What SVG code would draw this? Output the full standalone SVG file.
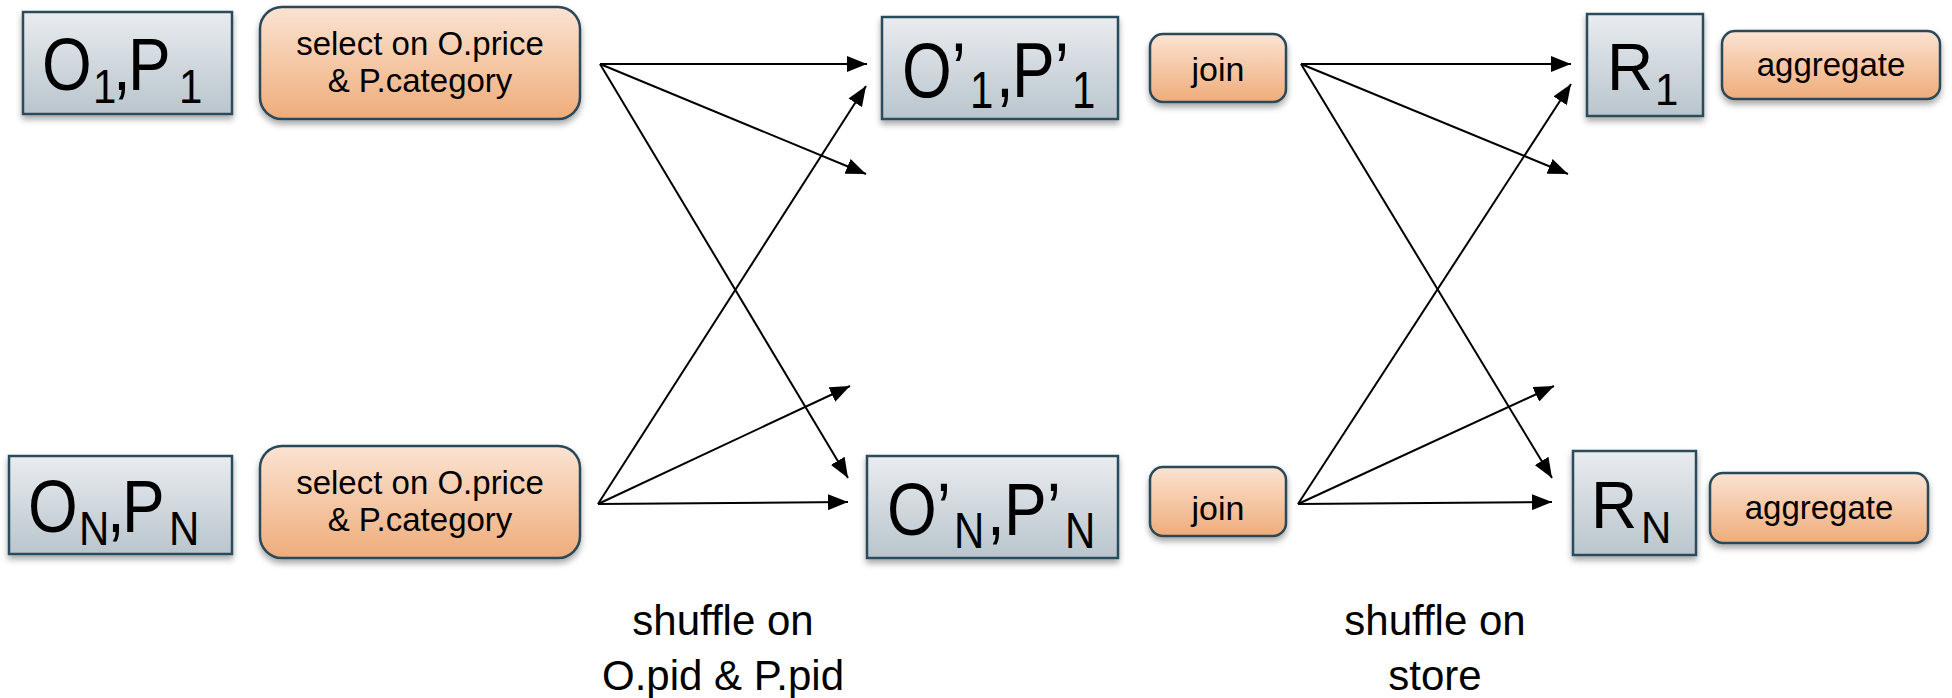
<svg xmlns="http://www.w3.org/2000/svg" width="1952" height="698" viewBox="0 0 1952 698">
  <defs>
    <linearGradient id="gradData" x1="0" y1="0" x2="0" y2="1">
      <stop offset="0" stop-color="#e9ecef"/>
      <stop offset="1" stop-color="#b9c5cd"/>
    </linearGradient>
    <linearGradient id="gradOp" x1="0" y1="0" x2="0" y2="1">
      <stop offset="0" stop-color="#fbe3d2"/>
      <stop offset="1" stop-color="#efac7a"/>
    </linearGradient>
    <filter id="shadow" x="-10%" y="-10%" width="120%" height="140%">
      <feDropShadow dx="0" dy="4" stdDeviation="3" flood-color="#000" flood-opacity="0.35"/>
    </filter>
    <marker id="arrow" viewBox="0 0 10 8" refX="10" refY="4" markerWidth="10" markerHeight="8" orient="auto" markerUnits="strokeWidth">
      <path d="M0,0 L10,4 L0,8 z" fill="#000"/>
    </marker>
    <style>
      .data { fill: url(#gradData); stroke: #2c4c5c; stroke-width: 2.5; filter: url(#shadow); }
      .op { fill: url(#gradOp); stroke: #2c4858; stroke-width: 2.5; filter: url(#shadow); }
      text { font-family: "Liberation Sans", Arial, sans-serif; fill: #000; }
      .big { font-size: 64px; }
      .sub { font-size: 42px; }
      .optext { font-size: 33px; text-anchor: middle; }
      .label { font-size: 42px; text-anchor: middle; }
      .edge { stroke: #000; stroke-width: 2; fill: none; marker-end: url(#arrow); }
    </style>
  </defs>

  <rect width="1952" height="698" fill="#fff"/>

  <!-- input partitions -->
  <g id="node-o1p1">
    <rect class="data" x="23" y="12" width="209" height="102"/>
    <g transform="translate(0,90) scale(1,1.15)">
      <text class="big"><tspan x="42" y="0">O</tspan><tspan class="sub" x="93" y="11">1</tspan><tspan x="113" y="0">,</tspan><tspan x="128" y="0">P</tspan><tspan class="sub" x="179" y="11">1</tspan></text>
    </g>
  </g>
  <g id="node-onpn">
    <rect class="data" x="9" y="456" width="223" height="98"/>
    <g transform="translate(0,532) scale(1,1.15)">
      <text class="big"><tspan x="28" y="0">O</tspan><tspan class="sub" x="79" y="11">N</tspan><tspan x="107" y="0">,</tspan><tspan x="122" y="0">P</tspan><tspan class="sub" x="169" y="11">N</tspan></text>
    </g>
  </g>

  <!-- select operators -->
  <g id="node-select1">
    <rect class="op" x="260" y="7" width="320" height="112" rx="22"/>
    <text class="optext" x="420" y="55">select on O.price</text>
    <text class="optext" x="420" y="92">&amp; P.category</text>
  </g>
  <g id="node-select2">
    <rect class="op" x="260" y="446" width="320" height="112" rx="22"/>
    <text class="optext" x="420" y="494">select on O.price</text>
    <text class="optext" x="420" y="531">&amp; P.category</text>
  </g>

  <!-- shuffled partitions -->
  <g id="node-o1p1-prime">
    <rect class="data" x="882" y="17" width="236" height="102"/>
    <g transform="translate(0,97) scale(1,1.22)">
      <text class="big"><tspan x="902" y="0">O’</tspan><tspan class="sub" x="970" y="9">1</tspan><tspan x="996" y="0">,</tspan><tspan x="1012" y="0">P’</tspan><tspan class="sub" x="1072" y="9">1</tspan></text>
    </g>
  </g>
  <g id="node-onpn-prime">
    <rect class="data" x="867" y="456" width="251" height="102"/>
    <g transform="translate(0,535) scale(1,1.17)">
      <text class="big"><tspan x="887" y="0">O’</tspan><tspan class="sub" x="954" y="11">N</tspan><tspan x="987" y="0">,</tspan><tspan x="1004" y="0">P’</tspan><tspan class="sub" x="1065" y="11">N</tspan></text>
    </g>
  </g>

  <!-- join operators -->
  <g id="node-join1">
    <rect class="op" x="1150" y="34" width="136" height="68" rx="13"/>
    <text class="optext" x="1218" y="81" style="font-size:34px">join</text>
  </g>
  <g id="node-join2">
    <rect class="op" x="1150" y="467" width="136" height="69" rx="13"/>
    <text class="optext" x="1218" y="520" style="font-size:34px">join</text>
  </g>

  <!-- result partitions -->
  <g id="node-r1">
    <rect class="data" x="1587" y="14" width="116" height="102"/>
    <g transform="translate(0,90) scale(1,1.05)">
      <text class="big"><tspan x="1607" y="0">R</tspan><tspan class="sub" x="1655" y="14">1</tspan></text>
    </g>
  </g>
  <g id="node-rn">
    <rect class="data" x="1573" y="451" width="123" height="104"/>
    <g transform="translate(0,528) scale(1,1.05)">
      <text class="big"><tspan x="1591" y="0">R</tspan><tspan class="sub" x="1641" y="14">N</tspan></text>
    </g>
  </g>

  <!-- aggregate operators -->
  <g id="node-agg1">
    <rect class="op" x="1722" y="31" width="218" height="68" rx="13"/>
    <text class="optext" x="1831" y="76">aggregate</text>
  </g>
  <g id="node-agg2">
    <rect class="op" x="1710" y="473" width="218" height="70" rx="13"/>
    <text class="optext" x="1819" y="519">aggregate</text>
  </g>

  <!-- shuffle connectors -->
  <g id="connectors">
    <line class="edge" x1="600" y1="64" x2="867" y2="64"/>
    <line class="edge" x1="600" y1="64" x2="866" y2="174"/>
    <line class="edge" x1="600" y1="64" x2="848" y2="478"/>
    <line class="edge" x1="598" y1="504" x2="866" y2="86"/>
    <line class="edge" x1="598" y1="504" x2="850" y2="386"/>
    <line class="edge" x1="598" y1="504" x2="848" y2="502"/>

    <line class="edge" x1="1301" y1="64" x2="1571" y2="64"/>
    <line class="edge" x1="1301" y1="64" x2="1568" y2="174"/>
    <line class="edge" x1="1301" y1="64" x2="1552" y2="478"/>
    <line class="edge" x1="1298" y1="504" x2="1571" y2="84"/>
    <line class="edge" x1="1298" y1="504" x2="1554" y2="386"/>
    <line class="edge" x1="1298" y1="504" x2="1552" y2="502"/>
  </g>

  <!-- shuffle labels -->
  <text class="label" x="723" y="635">shuffle on</text>
  <text class="label" x="723" y="690">O.pid &amp; P.pid</text>
  <text class="label" x="1435" y="635">shuffle on</text>
  <text class="label" x="1435" y="690">store</text>
</svg>
